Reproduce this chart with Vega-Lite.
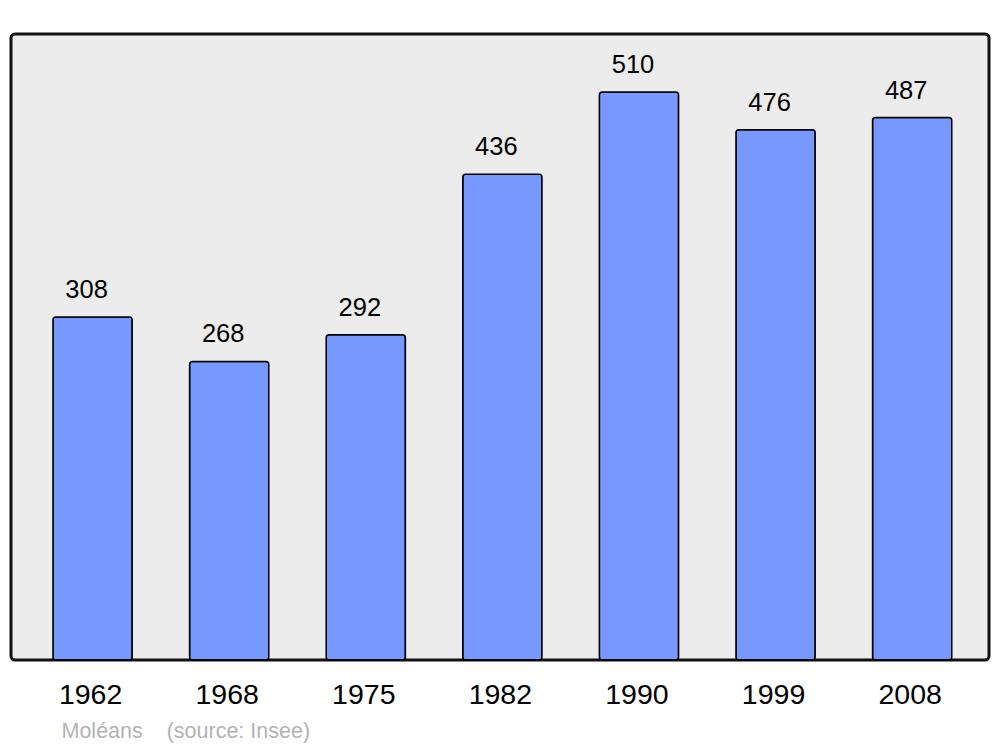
{
  "$schema": "https://vega.github.io/schema/vega-lite/v6.json",
  "autosize": "none",
  "width": 978,
  "height": 626,
  "padding": {"left": 11, "top": 34, "right": 11, "bottom": 87},
  "background": "white",
  "config": {
    "font": "Liberation Sans",
    "view": {"fill": "#ececec", "stroke": "#111111", "strokeWidth": 3, "cornerRadius": 4}
  },
  "data": {
    "values": [
      {"year": "1962", "pop": 308},
      {"year": "1968", "pop": 268},
      {"year": "1975", "pop": 292},
      {"year": "1982", "pop": 436},
      {"year": "1990", "pop": 510},
      {"year": "1999", "pop": 476},
      {"year": "2008", "pop": 487}
    ]
  },
  "encoding": {
    "x": {
      "field": "year",
      "type": "ordinal",
      "sort": null,
      "scale": {"paddingInner": 0.42, "paddingOuter": 0.29, "align": 0.53},
      "axis": {
        "title": "Moléans\u00a0\u00a0\u00a0\u00a0(source: Insee)",
        "titleAnchor": "start",
        "titleAlign": "left",
        "titleX": 50,
        "titleY": 77,
        "titleBaseline": "alphabetic",
        "titleFontSize": 21.5,
        "titleFontWeight": "normal",
        "titleColor": "#b3b3b3",
        "labelAngle": 0,
        "labelFontSize": 28.5,
        "labelColor": "#000000",
        "labelBaseline": "alphabetic",
        "labelPadding": 43,
        "labelOffset": -2,
        "ticks": false,
        "domain": false,
        "grid": false
      }
    },
    "y": {
      "field": "pop",
      "type": "quantitative",
      "scale": {"domain": [0, 562], "nice": false, "zero": true},
      "axis": null
    }
  },
  "layer": [
    {
      "mark": {"type": "bar", "fill": "#7799ff", "stroke": "#000000", "strokeWidth": 1.5, "cornerRadius": 3}
    },
    {
      "mark": {"type": "text", "baseline": "alphabetic", "dy": -19, "dx": -6, "fontSize": 25.5, "color": "#000000"},
      "encoding": {"text": {"field": "pop", "type": "quantitative"}}
    }
  ]
}
